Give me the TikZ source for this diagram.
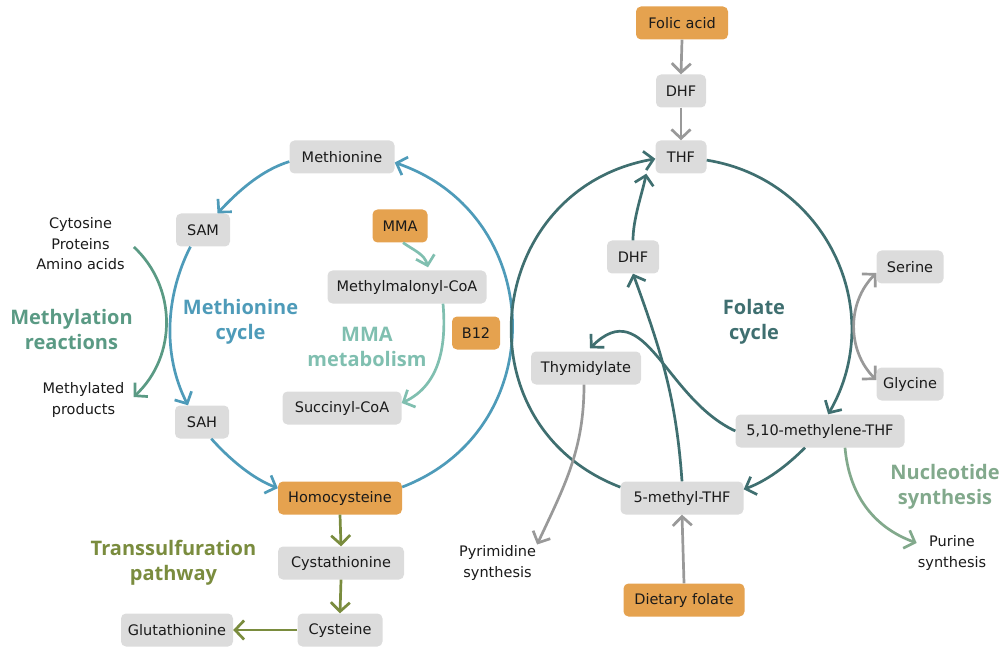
\documentclass[tikz,border=0pt]{standalone}
\usepackage{fontspec}
\setmainfont{DejaVu Sans}
\newfontfamily\lblfont{Open Sans}
\usetikzlibrary{arrows.meta}
\definecolor{boxgray}{HTML}{DCDCDC}
\definecolor{orng}{HTML}{E5A24F}
\definecolor{metblue}{HTML}{4E9BB9}
\definecolor{folteal}{HTML}{3F6F70}
\definecolor{methgreen}{HTML}{5A9A84}
\definecolor{mmateal}{HTML}{80BFB0}
\definecolor{olivec}{HTML}{7A8C3E}
\definecolor{nucgreen}{HTML}{82A98C}
\definecolor{arrgray}{HTML}{999999}
\definecolor{txt}{HTML}{1A1A1A}
\begin{document}
\begin{tikzpicture}[x=1pt,y=1pt,
  >={Straight Barb[length=9pt,width=19pt]},
  box/.style={rectangle, rounded corners=5pt, fill=boxgray, text=txt, minimum height=33pt, inner xsep=0pt, font=\fontsize{14.5}{17}\selectfont},
  obox/.style={box, fill=orng},
  lbl/.style={font=\lblfont\fontsize{20}{25}\selectfont\bfseries, align=center, inner sep=1pt},
  note/.style={font=\fontsize{14.5}{20.5}\selectfont, align=center, text=txt, inner sep=1pt},
  con/.style={line width=2.7pt}
]
\useasboundingbox (0,0) rectangle (1008,646);
% boxes
\node[obox, minimum width=92pt] (folic) at (682,623) {Folic acid};
\node[box, minimum width=50pt] (dhfa) at (681,555) {DHF};
\node[box, minimum width=51pt] (thf) at (681,489) {THF};
\node[box, minimum width=105pt] (meth) at (342,489) {Methionine};
\node[box, minimum width=54pt] (sam) at (203,416) {SAM};
\node[obox, minimum width=55pt] (mma) at (400,420) {MMA};
\node[box, minimum width=159pt] (mmcoa) at (407,359) {Methylmalonyl-CoA};
\node[obox, minimum width=48pt] (b12) at (476,313) {B12};
\node[box, minimum width=119pt] (succ) at (342,238) {Succinyl-CoA};
\node[box, minimum width=54pt] (sah) at (202,224) {SAH};
\node[obox, minimum width=124pt] (hcy) at (340,148) {Homocysteine};
\node[box, minimum width=126pt] (cysta) at (341,83) {Cystathionine};
\node[box, minimum width=85pt] (cys) at (340,16) {Cysteine};
\node[box, minimum width=112pt] (glut) at (177,16) {Glutathionine};
\node[box, minimum width=52pt] (dhfb) at (633,389) {DHF};
\node[box, minimum width=67pt] (ser) at (910,379) {Serine};
\node[box, minimum width=67pt] (gly) at (910,262) {Glycine};
\node[box, minimum width=110pt] (thym) at (586,278) {Thymidylate};
\node[box, minimum width=169pt] (mthf) at (820,215) {5,10-methylene-THF};
\node[box, minimum width=123pt] (fmthf) at (682,148) {5-methyl-THF};
\node[obox, minimum width=121pt] (diet) at (684,46) {Dietary folate};
% plain texts
\node[note] (cyt) at (80.5,402) {Cytosine\\Proteins\\Amino acids};
\node[note] (mprod) at (83.5,246) {Methylated\\products};
\node[note] (pur) at (952,93) {Purine\\synthesis};
\node[note] (pyr) at (497.5,83) {Pyrimidine\\synthesis};
% bold labels
\node[lbl, text=methgreen] (mr) at (71.5,317) {Methylation\\reactions};
\node[lbl, text=metblue] (mc) at (240.5,324) {Methionine\\cycle};
\node[lbl, text=mmateal] (mm) at (367,299) {MMA\\metabolism};
\node[lbl, text=folteal] (fc) at (754,324) {Folate\\cycle};
\node[lbl, text=nucgreen] (ns) at (945,159) {Nucleotide\\synthesis};
\node[lbl, text=olivec] (tp) at (173.5,83) {Transsulfuration\\pathway};
% methionine cycle
\draw[con, ->, metblue] (meth.185) to[out=197, in=47, looseness=0.85] (sam.49);
\draw[con, ->, metblue] (sam.233) to[out=243, in=117, looseness=0.9] (sah.130);
\draw[con, ->, metblue] (sah.-61) to[out=312, in=159, looseness=0.85] (hcy.171);
\draw[con, ->, metblue] (hcy.10) to[out=21, in=-19, looseness=1.27] (meth.-6);
% folate cycle
\draw[con, ->, folteal] (thf.-7) to[out=-9, in=60, looseness=1.09] (mthf.64);
\draw[con, ->, folteal] (mthf.228) to[out=-135, in=20, looseness=0.86] (fmthf.8);
\draw[con, ->, folteal] (fmthf.170) to[out=159, in=190, looseness=1.35] (thf.184);
\draw[con, ->, folteal] (fmthf.north) to[out=94, in=-70] (dhfb.south);
\draw[con, ->, folteal] (dhfb.north) to[out=90, in=-102, looseness=0.8] ([xshift=-9pt]thf.south west);
\draw[con, ->, folteal] (mthf.west) to[out=155, in=45, looseness=1.2] ([xshift=4pt,yshift=3pt]thym.north);
% serine / glycine
\draw[con, <->, arrgray] ([yshift=-6pt]ser.west) to[out=225, in=135] ([yshift=4pt]gly.west);
% side pathways
\draw[con, ->, nucgreen] ([xshift=25pt]mthf.south) to[out=-85, in=160] ([yshift=10pt]pur.west);
\draw[con, ->, arrgray] ([xshift=-2pt]thym.south) to[out=-90, in=65] (pyr.north east);
\draw[con, ->, methgreen] ([xshift=8pt,yshift=-3pt]cyt.east) to[out=-43, in=43, looseness=1.01] ([xshift=8pt,yshift=3pt]mprod.east);
\draw[con, ->, mmateal] ([xshift=3pt]mma.south) to[out=-35, in=105] ([xshift=21pt,yshift=3pt]mmcoa.north);
\draw[con, ->, mmateal] ([xshift=36pt]mmcoa.south) to[out=-85, in=25] ([yshift=5pt]succ.east);
% transsulfuration
\draw[con, ->, olivec] (hcy.south) -- (cysta.north);
\draw[con, ->, olivec] (cysta.south) -- (cys.north);
\draw[con, ->, olivec] (cys.west) -- (glut.east);
% folate inputs
\draw[con, ->, arrgray] (folic.south) -- (dhfa.north);
\draw[con, ->, arrgray] (dhfa.south) -- (thf.north);
\draw[con, ->, arrgray] (diet.north) -- (fmthf.south);
\end{tikzpicture}
\end{document}
